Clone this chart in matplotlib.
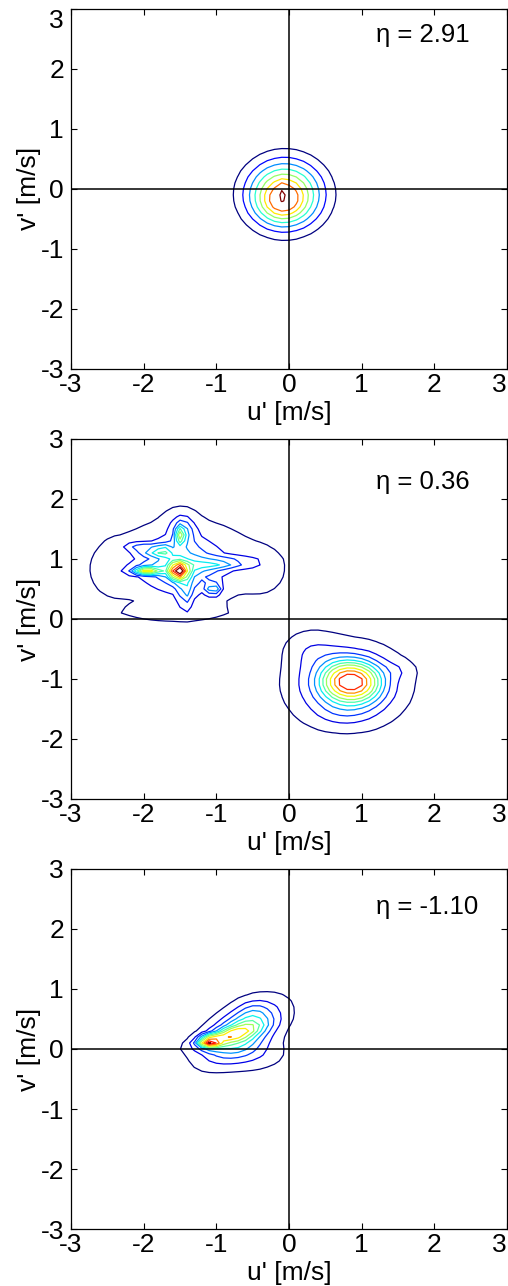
import numpy as np
import matplotlib
matplotlib.use("Agg")
import matplotlib.pyplot as plt

plt.rcParams['font.family'] = ['Liberation Sans', 'DejaVu Sans']
plt.rcParams['axes.unicode_minus'] = False

# joint pdf of u', v' read off the picture as a few bumps per panel:
# centre u, centre v, spread u, spread v, correlation, height
top_u0 = [-0.06, -0.10, -0.08]
top_v0 = [-0.09, -0.26, 0.00]
top_su = [0.36, 0.20, 0.03]
top_sv = [0.39, 0.20, 0.08]
top_rho = [0.0, 0.0, 0.0]
top_amp = [0.80, 0.20, 0.10]
top_levels = [0.12, 0.23, 0.34, 0.45, 0.56, 0.67, 0.78, 0.95]
top_eta = "η = 2.91"

# upper-left cluster then lower-right cluster
mid_u0 = [-1.40, -0.35, -2.45, -1.60, -1.50,
          -1.50, -0.95, -1.95, -1.42, -1.45,
          -1.52, -1.96, -1.50, -1.73, -1.04,
          0.80, 0.72, 1.00, 0.30, 1.50, 0.75]
mid_v0 = [0.95, 0.80, 0.80, 0.10, 1.65,
          0.90, 0.92, 1.15, 0.45, 1.45,
          0.80, 0.82, 1.39, 1.15, 0.50,
          -1.10, -1.03, -1.05, -0.50, -0.85, -1.60]
mid_su = [0.75, 0.20, 0.20, 0.55, 0.15,
          0.35, 0.30, 0.20, 0.07, 0.10,
          0.08, 0.13, 0.04, 0.07, 0.07,
          0.45, 0.20, 0.20, 0.25, 0.15, 0.30]
mid_sv = [0.50, 0.25, 0.30, 0.10, 0.15,
          0.30, 0.07, 0.08, 0.18, 0.15,
          0.09, 0.04, 0.10, 0.04, 0.07,
          0.38, 0.22, 0.22, 0.22, 0.10, 0.15]
mid_rho = [0.0, 0.0, 0.0, 0.0, 0.0,
           0.0, 0.3, -0.6, 0.0, 0.0,
           0.0, 0.0, 0.0, 0.0, 0.0,
           0.0, 0.0, 0.0, 0.0, 0.0, 0.0]
mid_amp = [0.09, 0.06, 0.06, 0.06, 0.06,
           0.25, 0.22, 0.20, 0.20, 0.20,
           0.80, 0.60, 0.30, 0.30, 0.30,
           0.33, 0.40, 0.40, 0.08, 0.05, 0.05]
mid_levels = [0.04, 0.12, 0.20, 0.28, 0.36, 0.44, 0.52, 0.62, 0.72, 0.82, 0.94]
mid_eta = "η = 0.36"

bot_u0 = [-1.10, -0.85, -0.66, -0.50, -0.50]
bot_v0 = [0.12, 0.22, 0.28, -0.08, 0.62]
bot_su = [0.10, 0.28, 0.33, 0.30, 0.15]
bot_sv = [0.06, 0.12, 0.30, 0.18, 0.15]
bot_rho = [0.0, 0.75, 0.55, 0.0, 0.0]
bot_amp = [0.60, 0.33, 0.45, 0.10, 0.07]
bot_levels = [0.04, 0.12, 0.20, 0.28, 0.36, 0.44, 0.52, 0.62, 0.72, 0.82, 0.92]
bot_eta = "η = -1.10"

ticks = [-3, -2, -1, 0, 1, 2, 3]
grid = np.arange(-3, 3.001, 0.1)


def density(U, V, u0, v0, su, sv, rho, amp):
    Z = np.zeros_like(U)
    for a, b, c, d, r, h in zip(u0, v0, su, sv, rho, amp):
        x = (U - a) / c
        y = (V - b) / d
        Z += h * np.exp(-(x * x - 2 * r * x * y + y * y) / (2 * (1 - r * r)))
    return Z


fig = plt.figure(figsize=(5.08, 12.86), dpi=100)
U, V = np.meshgrid(grid, grid)

panels = [
    (0.7131, top_u0, top_v0, top_su, top_sv, top_rho, top_amp, top_levels, top_eta, 2.57),
    (0.3787, mid_u0, mid_v0, mid_su, mid_sv, mid_rho, mid_amp, mid_levels, mid_eta, 2.28),
    (0.0443, bot_u0, bot_v0, bot_su, bot_sv, bot_rho, bot_amp, bot_levels, bot_eta, 2.37),
]

for i, (bottom, u0, v0, su, sv, rho, amp, levels, eta, ty) in enumerate(panels):
    ax = fig.add_axes([0.1398, bottom, 0.8583, 0.28])
    Z = density(U, V, u0, v0, su, sv, rho, amp)
    ax.contour(U, V, Z, levels=levels, cmap='jet', linewidths=0.9)
    ax.axhline(0, color='k', lw=1.1)
    ax.axvline(0, color='k', lw=1.1)
    ax.set_xlim(-3, 3)
    ax.set_ylim(-3, 3)
    ax.set_xticks(ticks)
    ax.set_yticks(ticks)
    ax.tick_params(direction='in', top=True, right=True, length=4, width=0.8,
                   labelsize=19)
    ax.tick_params(axis='x', pad=3)
    ax.tick_params(axis='y', pad=5)
    for s in ax.spines.values():
        s.set_linewidth(0.9)
    ax.set_xlabel("u' [m/s]", fontsize=19)
    ax.set_ylabel("v' [m/s]", fontsize=19)
    ax.xaxis.set_label_coords(0.5, -0.088)
    ax.yaxis.set_label_coords(-0.069, 0.5)
    ax.get_xticklabels()[-1].set_horizontalalignment('right')
    if i == 0:
        ax.get_yticklabels()[-1].set_verticalalignment('top')
    ax.text(1.2, ty, eta, fontsize=18.5, va='center')

fig.savefig("out.png", dpi=100)
